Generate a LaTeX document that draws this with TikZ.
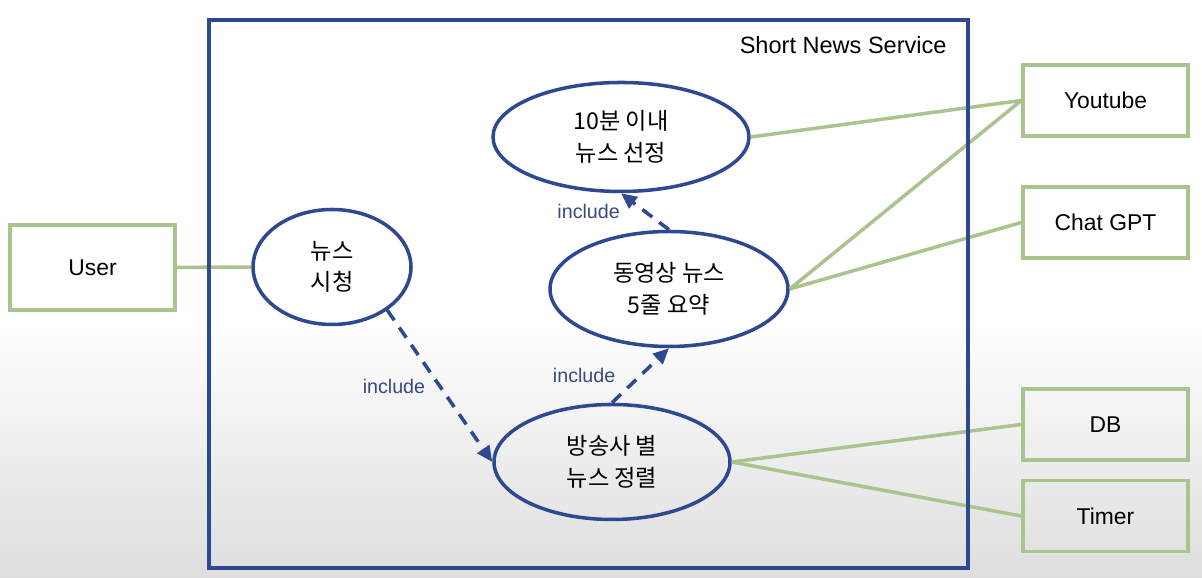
\documentclass[tikz,border=0pt]{standalone}
\usepackage{fontspec}
\setmainfont{Liberation Sans}
\newfontfamily\krfont{Noto Sans CJK KR}
\usepackage{xcolor}
\usepackage{tikz}
\usetikzlibrary{positioning, arrows.meta, shapes.geometric}
\definecolor{sysblue}{RGB}{46,72,145}
\definecolor{actgreen}{RGB}{170,196,142}
\definecolor{inclblue}{RGB}{58,72,128}

\begin{document}
\begin{tikzpicture}[font=\fontsize{13}{18}\selectfont,
        usecase/.style={ellipse, draw=sysblue, line width=2pt, align=center, inner sep=0pt,
                        font={\krfont\fontsize{13.2}{18}\selectfont}},
        actor/.style={draw=actgreen, line width=2pt, minimum width=3.3cm, minimum height=1.42cm},
        assoc/.style={draw=actgreen, line width=2pt},
        incl/.style={draw=sysblue, line width=2pt, dash pattern=on 7pt off 5pt,
                     -{Triangle[length=9pt, width=8pt]}},
        lbl/.style={text=inclblue, font=\fontsize{11.2}{13}\selectfont}]
      \fill[white] (0,0) rectangle (24.04,11.56);
      \shade[top color=white, bottom color=black!13] (0,0) rectangle (24.04,5.2);
      \useasboundingbox (0,0) rectangle (24.04,11.56);

      \node[usecase, minimum width=5.12cm, minimum height=2.18cm] (select) at (12.42,8.82) {10분 이내\\뉴스 선정};
      \node[usecase, minimum width=3.16cm, minimum height=2.3cm] (watch) at (6.64,6.22) {뉴스\\시청};
      \node[usecase, minimum width=4.76cm, minimum height=2.3cm] (summary) at (13.38,5.78) {동영상 뉴스\\5줄 요약};
      \node[usecase, minimum width=4.72cm, minimum height=2.3cm] (sort) at (12.24,2.32) {방송사 별\\뉴스 정렬};

      \node[actor, minimum height=1.7cm] (user) at (1.85,6.21) {User};
      \node[actor] (youtube) at (22.11,9.55) {Youtube};
      \node[actor, below=0.95cm of youtube] (gpt) {Chat GPT};
      \node[actor] (db) at (22.11,3.07) {DB};
      \node[actor, below=0.34cm of db] (timer) {Timer};

      \draw[assoc] (user) -- (watch);
      \draw[assoc] (select.east) -- (youtube.west);
      \draw[assoc] (summary.east) -- (youtube.west);
      \draw[assoc] (summary.east) -- (gpt.west);
      \draw[assoc] (sort.east) -- (db.west);
      \draw[assoc] (sort.east) -- (timer.west);

      \draw[incl] (watch.-38) -- node[lbl, midway, left=4pt] (inc1) {include} (sort.west);
      \draw[incl] (sort.north) -- node[lbl, midway, left=10pt] (inc2) {include} (summary.south);
      \draw[incl] (summary.north) -- node[lbl, midway, left=10pt] (inc3) {include} (select.south);

      \node[draw=sysblue, line width=2pt, minimum width=15.18cm, minimum height=10.96cm] (sys) at (11.77,5.68) {};
      \node[anchor=north east, font=\fontsize{13.4}{18}\selectfont] (title) at ([xshift=-0.34cm, yshift=-0.24cm]sys.north east) {Short News Service};
    \end{tikzpicture}
\end{document}
